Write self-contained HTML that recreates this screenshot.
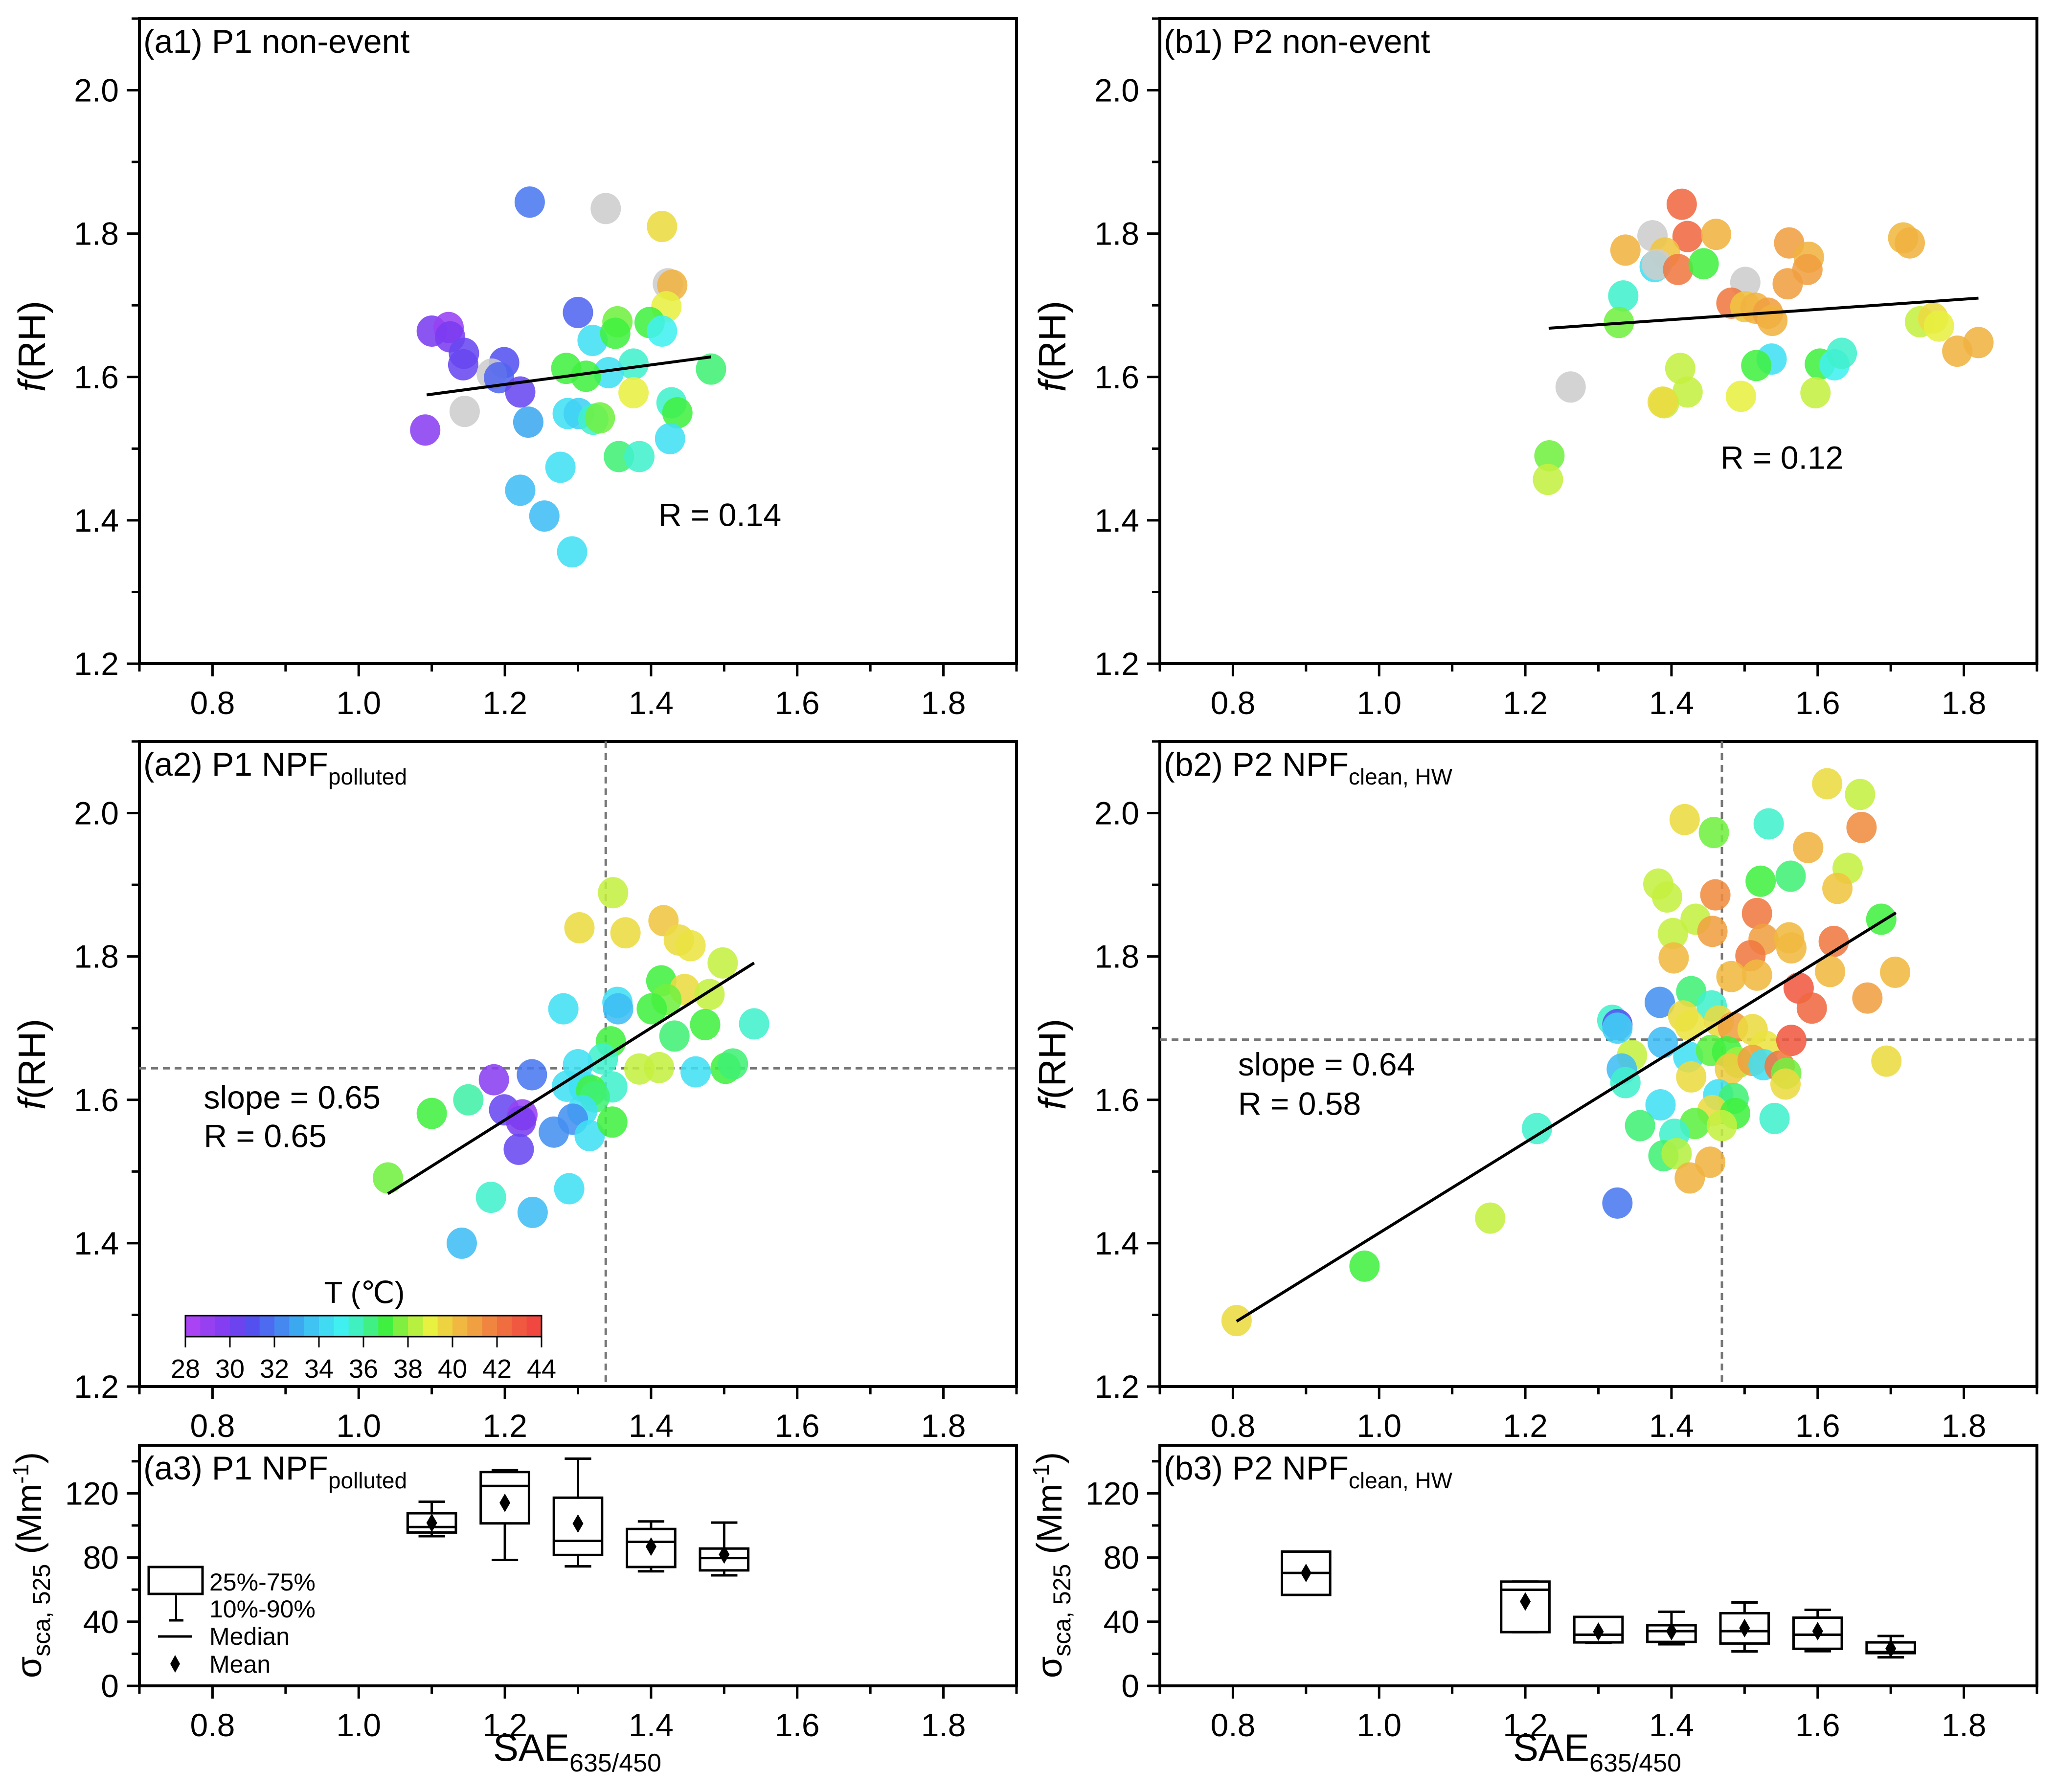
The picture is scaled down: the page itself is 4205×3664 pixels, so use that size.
<!DOCTYPE html>
<html><head><meta charset="utf-8"><style>
html,body{margin:0;padding:0;background:#fff;}
svg{display:block;font-family:"Liberation Sans",Arial,sans-serif;}
</style></head><body>
<svg id="fig" width="4205" height="3664" viewBox="0 0 4205 3664" xmlns="http://www.w3.org/2000/svg"></svg>
<script>
// ---- data ----
const a1X=[1.234,1.338,1.415,1.423,1.429,1.421,1.300,1.100,1.123,1.125,1.144,1.143,1.199,1.182,1.192,1.221,1.091,1.145,1.232,1.320,1.354,1.351,1.398,1.415,1.376,1.342,1.284,1.311,1.376,1.482,1.428,1.436,1.286,1.301,1.321,1.330,1.426,1.356,1.384,1.276,1.221,1.254,1.292];
const a1Y=[1.844,1.835,1.810,1.730,1.728,1.698,1.690,1.664,1.669,1.656,1.633,1.617,1.620,1.604,1.599,1.579,1.526,1.552,1.537,1.651,1.677,1.661,1.676,1.664,1.618,1.606,1.612,1.601,1.578,1.611,1.564,1.550,1.549,1.549,1.541,1.543,1.514,1.489,1.489,1.474,1.442,1.406,1.356];
const a1T=[32,null,39.5,null,40.5,39,31.5,30,29,30,30.5,30.5,31,null,31.5,30.5,29.5,null,33,34.5,37.5,37,37,35,35.5,34.5,37,37,39,36.5,35.5,37,34.5,34,35.5,37.5,34.5,36.5,35.5,34.5,33.5,33.5,34.5];
const a1Fit=[[1.093,1.575],[1.482,1.628]];

const b1X=[1.414,1.422,1.374,1.461,1.337,1.391,1.377,1.380,1.409,1.444,1.334,1.328,1.501,1.482,1.501,1.515,1.532,1.538,1.561,1.588,1.586,1.559,1.717,1.726,1.740,1.758,1.766,1.791,1.820,1.537,1.516,1.603,1.623,1.633,1.412,1.422,1.390,1.388,1.495,1.597,1.262,1.233,1.231];
const b1Y=[1.841,1.796,1.797,1.799,1.777,1.773,1.754,1.757,1.750,1.758,1.713,1.676,1.732,1.703,1.698,1.696,1.689,1.679,1.787,1.767,1.750,1.730,1.794,1.787,1.677,1.682,1.671,1.636,1.648,1.625,1.616,1.618,1.617,1.633,1.612,1.579,1.564,1.565,1.573,1.578,1.586,1.490,1.457];
const b1T=[42.5,42.5,null,40.5,40.5,40,34.5,null,42,37,35.5,37.5,null,42,40,40.5,41,40.5,41,40.5,41,41,40.3,40.5,38.5,39.5,39,40.5,40.5,34.5,37,37,35,35.5,38.5,38.5,38.5,39.5,39,38.5,null,37.5,38.5];
const b1Fit=[[1.232,1.668],[1.820,1.710]];

const a2X=[1.348,1.302,1.365,1.417,1.438,1.454,1.498,1.414,1.446,1.480,1.421,1.401,1.354,1.355,1.280,1.541,1.474,1.432,1.345,1.334,1.300,1.384,1.411,1.461,1.502,1.512,1.237,1.185,1.285,1.308,1.347,1.318,1.323,1.306,1.293,1.316,1.347,1.267,1.199,1.224,1.222,1.219,1.150,1.100,1.040,1.181,1.238,1.288,1.141];
const a2Y=[1.889,1.840,1.833,1.850,1.823,1.815,1.791,1.766,1.754,1.747,1.740,1.727,1.736,1.727,1.727,1.706,1.705,1.689,1.681,1.657,1.649,1.643,1.645,1.639,1.644,1.650,1.635,1.628,1.619,1.618,1.618,1.613,1.604,1.585,1.573,1.550,1.569,1.555,1.586,1.579,1.570,1.531,1.600,1.581,1.491,1.464,1.443,1.476,1.400];
const a2T=[38.5,39.5,39.5,40,39.5,39.3,38.5,37,39.5,38.5,37.5,37,34.5,33.5,34.5,35.5,37,36.5,37,35.5,34.5,38.5,38.5,34.5,37,36.5,32,29.5,34.5,34.5,35.5,37,36.5,34.5,32.5,34.5,37,32.5,30.5,29,30,30.5,36,37,37.5,35.5,33.5,34.5,33.5];
const a2Fit=[[1.040,1.469],[1.541,1.791]];
const a2Ref=[1.338,1.644];

const b2X=[0.805,0.980,1.152,1.216,1.326,1.613,1.658,1.418,1.458,1.533,1.660,1.587,1.641,1.522,1.563,1.382,1.394,1.460,1.627,1.517,1.433,1.402,1.456,1.526,1.561,1.564,1.508,1.403,1.622,1.687,1.482,1.517,1.617,1.706,1.574,1.592,1.668,1.427,1.384,1.455,1.319,1.326,1.326,1.416,1.425,1.465,1.484,1.511,1.388,1.528,1.564,1.346,1.423,1.454,1.476,1.491,1.480,1.511,1.526,1.548,1.557,1.556,1.694,1.332,1.337,1.427,1.464,1.485,1.385,1.456,1.487,1.541,1.357,1.432,1.469,1.404,1.389,1.407,1.453,1.425];
const b2Y=[1.292,1.368,1.435,1.560,1.456,2.041,2.026,1.991,1.973,1.985,1.980,1.952,1.923,1.905,1.912,1.901,1.883,1.886,1.895,1.860,1.852,1.832,1.835,1.824,1.826,1.812,1.801,1.798,1.821,1.852,1.772,1.774,1.779,1.778,1.756,1.728,1.742,1.751,1.736,1.731,1.711,1.705,1.700,1.717,1.704,1.710,1.701,1.698,1.680,1.675,1.683,1.662,1.660,1.669,1.667,1.652,1.643,1.655,1.649,1.647,1.637,1.622,1.654,1.643,1.624,1.632,1.607,1.602,1.593,1.585,1.581,1.574,1.564,1.567,1.564,1.552,1.522,1.525,1.513,1.491];
const b2T=[39.5,37,38.5,35.5,32,39.5,38.5,39.5,37.5,35.5,41.5,40.5,38.5,37,36.5,38.5,38.5,41.5,40,42,38.5,38.5,41,41,40.3,40.3,42,40.3,42,37,40.3,40.3,40.3,40.3,43,42.5,41,36.5,32.5,35.5,35.5,31,34,39.5,39.3,39.5,41,39.5,33.5,39.3,43,38.5,34.5,37.3,37,38,39.8,41,34.5,42,37.5,39.5,39.5,33.5,35.5,39.5,34.5,36.5,34.5,39.5,37,35.5,36.5,37.3,38.5,35.5,36.5,38.3,40.5,40.5];
const b2Fit=[[0.805,1.291],[1.707,1.861]];
const b2Ref=[1.469,1.684];

// box stats: [wlo, q1, med, q3, whi, mean]
const a3Pos=[1.1,1.2,1.3,1.4,1.5];
const a3Stats=[[93.3,95.6,99.0,107.6,114.8,101.6],[78.5,101.3,124.6,133.3,134.5,114.1],[74.5,81.6,90.4,117.3,141.6,101.2],[71.4,74.1,89.8,97.8,102.5,86.8],[68.9,72.0,79.7,85.6,101.8,81.9]];
const b3Pos=[0.9,1.2,1.3,1.4,1.5,1.6,1.7];
const b3Stats=[[56.7,56.7,70.4,83.7,83.7,70.4],[33.5,33.5,59.9,65.0,65.0,52.6],[26.8,27.1,31.9,43.0,43.0,33.8],[25.9,27.4,34.1,37.8,46.2,34.1],[21.5,26.4,34.1,45.3,52.0,36.0],[21.6,23.1,31.9,42.5,47.4,34.1],[17.8,20.4,21.2,27.1,31.1,23.3]];

const xTicks=[0.8,1.0,1.2,1.4,1.6,1.8];
const fTicks=[1.2,1.4,1.6,1.8,2.0];
const sTicks=[0,40,80,120];
const cbTicks=[28,30,32,34,36,38,40,42,44];

// ---- helpers ----
const NS="http://www.w3.org/2000/svg";
const svg=document.getElementById('fig');
function mk(tag,attrs,parent){const e=document.createElementNS(NS,tag);for(const k in attrs)e.setAttribute(k,attrs[k]);(parent||svg).appendChild(e);return e;}
const stops=[[28,[180,68,244]],[30,[122,60,240]],[31,[84,80,240]],[32,[74,120,240]],[33,[60,168,240]],[34,[64,208,245]],[35,[64,240,240]],[36,[64,240,168]],[37,[64,240,64]],[38,[160,240,64]],[39,[232,240,64]],[40,[240,196,64]],[41,[240,160,64]],[42,[240,120,64]],[43,[240,88,64]],[44,[240,64,64]]];
function cmap(t){if(t===null)return 'rgb(205,205,205)';t=Math.max(28,Math.min(44,t));for(let i=0;i<stops.length-1;i++){const a=stops[i],b=stops[i+1];if(t<=b[0]){const f=(t-a[0])/(b[0]-a[0]);const c=a[1].map((v,j)=>Math.round(v+(b[1][j]-v)*f));return 'rgb('+c.join(',')+')';}}return 'rgb(240,64,64)';}

const colsX=[285,2371];const W=1793;
const rows=[[38,1357],[1516,2835],[2955,3447]];
function panel(ci,ri,ymin,ymax){const L=colsX[ci],R=L+W,T=rows[ri][0],B=rows[ri][1];
 return {L,R,T,B,sx:v=>L+(v-0.7)/1.2*W,sy:v=>B-(v-ymin)/(ymax-ymin)*(B-T)};}

function axes(p,g,yt,yminor,fmt){
 mk('rect',{x:p.L,y:p.T,width:p.R-p.L,height:p.B-p.T,fill:'none',stroke:'#000','stroke-width':6},g);
 for(let v=0.7;v<=1.9001;v+=0.1){const x=p.sx(v);const maj=Math.abs((v*10)%2-0)<0.01||Math.abs((v*10)%2-2)<0.01;
  mk('line',{x1:x,x2:x,y1:p.B,y2:p.B+(maj?26:16),stroke:'#000','stroke-width':5},g);}
 const xl=mk('g',{},g);
 xTicks.forEach(v=>{const t=mk('text',{x:p.sx(v),y:p.B+103,'text-anchor':'middle','font-size':66},xl);t.textContent=v.toFixed(1);});
 yminor.forEach(v=>{const y=p.sy(v);mk('line',{x1:p.L,x2:p.L-16,y1:y,y2:y,stroke:'#000','stroke-width':5},g);});
 const yl=mk('g',{},g);
 yt.forEach(v=>{const y=p.sy(v);mk('line',{x1:p.L,x2:p.L-26,y1:y,y2:y,stroke:'#000','stroke-width':5},g);
  const t=mk('text',{x:p.L-42,y:y+23,'text-anchor':'end','font-size':66},yl);t.textContent=fmt(v);});
}
function label(p,g,main,sub){const t=mk('text',{x:p.L+8,y:p.T+70,'font-size':68},g);
 t.appendChild(document.createTextNode(main));if(sub){const s=mk('tspan',{dy:18,'font-size':46},t);s.textContent=sub;}}
function scatter(p,g,X,Y,T){const pg=mk('g',{},g);
 for(let i=0;i<X.length;i++){const c=mk('ellipse',{cx:p.sx(X[i]),cy:p.sy(Y[i]),rx:31,ry:32,fill:cmap(T[i]),'fill-opacity':0.87},pg);
  }}
function fit(p,g,F){const l=mk('line',{x1:p.sx(F[0][0]),y1:p.sy(F[0][1]),x2:p.sx(F[1][0]),y2:p.sy(F[1][1]),stroke:'#000','stroke-width':6},g);
 }
function refl(p,g,r){const a=mk('line',{x1:p.sx(r[0]),x2:p.sx(r[0]),y1:p.T,y2:p.B,stroke:'#777','stroke-width':5,'stroke-dasharray':'14,10'},g);
 
 const b=mk('line',{x1:p.L,x2:p.R,y1:p.sy(r[1]),y2:p.sy(r[1]),stroke:'#777','stroke-width':5,'stroke-dasharray':'14,10'},g);
 }
function txt(p,g,x,y,s,name){const t=mk('text',{x:p.sx(x),y:p.sy(y),'font-size':66},g);t.textContent=s;}
function ylab(x,y,g){const t=mk('text',{x:x,y:y,'font-size':78,'text-anchor':'middle',transform:'rotate(-90 '+x+' '+y+')'},g);
 
 const f=mk('tspan',{'font-style':'italic'},t);f.textContent='f';t.appendChild(document.createTextNode('(RH)'));}
function ylab3(x,y,g){const t=mk('text',{x:x,y:y,'font-size':72,'text-anchor':'middle',transform:'rotate(-90 '+x+' '+y+')'},g);
 
 t.appendChild(document.createTextNode('σ'));const s=mk('tspan',{dy:18,'font-size':50},t);s.textContent='sca, 525';
 const r=mk('tspan',{dy:-18},t);r.textContent=' (Mm';const e=mk('tspan',{dy:-26,'font-size':46},t);e.textContent='-1';const c=mk('tspan',{dy:26},t);c.textContent=')';}
function xlab(x,y,g){const t=mk('text',{x:x,y:y,'font-size':78,'text-anchor':'middle'},g);
 t.appendChild(document.createTextNode('SAE'));const s=mk('tspan',{dy:22,'font-size':52},t);s.textContent='635/450';}
function boxes(p,g,P,S){const bg=mk('g',{},g);
 for(let i=0;i<P.length;i++){const s=S[i],cx=p.sx(P[i]),hw=p.sx(P[i]+0.033)-cx,cw=hw*0.55;
  const b=mk('g',{},bg);
  const st={stroke:'#000','stroke-width':5,fill:'none'};
  mk('line',Object.assign({x1:cx,x2:cx,y1:p.sy(s[0]),y2:p.sy(s[1])},st),b);
  mk('line',Object.assign({x1:cx,x2:cx,y1:p.sy(s[3]),y2:p.sy(s[4])},st),b);
  mk('line',Object.assign({x1:cx-cw,x2:cx+cw,y1:p.sy(s[0]),y2:p.sy(s[0])},st),b);
  mk('line',Object.assign({x1:cx-cw,x2:cx+cw,y1:p.sy(s[4]),y2:p.sy(s[4])},st),b);
  mk('rect',Object.assign({x:cx-hw,y:p.sy(s[3]),width:2*hw,height:p.sy(s[1])-p.sy(s[3]),fill:'#fff'},{stroke:'#000','stroke-width':5}),b);
  mk('line',Object.assign({x1:cx-hw,x2:cx+hw,y1:p.sy(s[2]),y2:p.sy(s[2])},st),b);
  const my=p.sy(s[5]);mk('path',{d:`M${cx} ${my-19}L${cx+11} ${my}L${cx} ${my+19}L${cx-11} ${my}Z`,fill:'#000'},b);}}

// ---- panels ----
function group(name){const g=mk('g',{});return g;}
const fmin=[1.3,1.5,1.7,1.9,2.1];
let g=group('panel-a1');let p=panel(0,0,1.2,2.1);
axes(p,g,fTicks,fmin,v=>v.toFixed(1));scatter(p,g,a1X,a1Y,a1T);fit(p,g,a1Fit);label(p,g,'(a1) P1 non-event');txt(p,g,1.41,1.392,'R = 0.14','r-value');ylab(92,708,g);
g=group('panel-b1');p=panel(1,0,1.2,2.1);
axes(p,g,fTicks,fmin,v=>v.toFixed(1));scatter(p,g,b1X,b1Y,b1T);fit(p,g,b1Fit);label(p,g,'(b1) P2 non-event');txt(p,g,1.467,1.472,'R = 0.12','r-value');ylab(2178,708,g);
g=group('panel-a2');p=panel(0,1,1.2,2.1);
axes(p,g,fTicks,fmin,v=>v.toFixed(1));refl(p,g,a2Ref);scatter(p,g,a2X,a2Y,a2T);fit(p,g,a2Fit);label(p,g,'(a2) P1 NPF','polluted');
txt(p,g,0.788,1.588,'slope = 0.65','slope-value');txt(p,g,0.788,1.534,'R = 0.65','r-value');ylab(92,2176,g);
const cb=mk('g',{});
const cbL=379,cbR=1107,cbT=2690,cbB=2733,nseg=24;
for(let i=0;i<nseg;i++){const t0=28+16*i/nseg;mk('rect',{x:cbL+(cbR-cbL)*i/nseg,y:cbT,width:(cbR-cbL)/nseg+0.8,height:cbB-cbT,fill:cmap(t0+16/nseg/2)},cb);}
mk('rect',{x:cbL,y:cbT,width:cbR-cbL,height:cbB-cbT,fill:'none',stroke:'#000','stroke-width':3},cb);
cbTicks.forEach(v=>{const x=cbL+(v-28)/16*(cbR-cbL);mk('line',{x1:x,x2:x,y1:cbB,y2:cbB+22,stroke:'#000','stroke-width':3},cb);
 const t=mk('text',{x:x,y:2817,'text-anchor':'middle','font-size':54},cb);t.textContent=v;});
const ct=mk('text',{x:745,y:2664,'text-anchor':'middle','font-size':62},cb);ct.textContent='T (℃)';
g=group('panel-b2');p=panel(1,1,1.2,2.1);
axes(p,g,fTicks,fmin,v=>v.toFixed(1));refl(p,g,b2Ref);scatter(p,g,b2X,b2Y,b2T);fit(p,g,b2Fit);label(p,g,'(b2) P2 NPF','clean, HW');
txt(p,g,0.807,1.634,'slope = 0.64','slope-value');txt(p,g,0.807,1.579,'R = 0.58','r-value');ylab(2178,2176,g);
const smin=[20,60,100,140];
g=group('panel-a3');p=panel(0,2,0,150);
axes(p,g,sTicks,smin,v=>String(v));boxes(p,g,a3Pos,a3Stats);label(p,g,'(a3) P1 NPF','polluted');ylab3(84,3200,g);xlab(1180,3600,g);
const lg=mk('g',{});
mk('rect',{x:304,y:3204,width:110,height:55,fill:'#fff',stroke:'#000','stroke-width':5},lg);
mk('line',{x1:360,x2:360,y1:3262,y2:3313,stroke:'#000','stroke-width':4},lg);
mk('line',{x1:345,x2:375,y1:3313,y2:3313,stroke:'#000','stroke-width':5},lg);
mk('line',{x1:323,x2:393,y1:3346,y2:3346,stroke:'#000','stroke-width':5},lg);
mk('path',{d:'M358 3384L368 3402L358 3420L348 3402Z',fill:'#000'},lg);
[['25%-75%',3252],['10%-90%',3307],['Median',3363],['Mean',3420]].forEach(a=>{const t=mk('text',{x:428,y:a[1],'font-size':50},lg);t.textContent=a[0];});
g=group('panel-b3');p=panel(1,2,0,150);
axes(p,g,sTicks,smin,v=>String(v));boxes(p,g,b3Pos,b3Stats);label(p,g,'(b3) P2 NPF','clean, HW');ylab3(2170,3200,g);xlab(3265,3600,g);
</script>
</body></html>
